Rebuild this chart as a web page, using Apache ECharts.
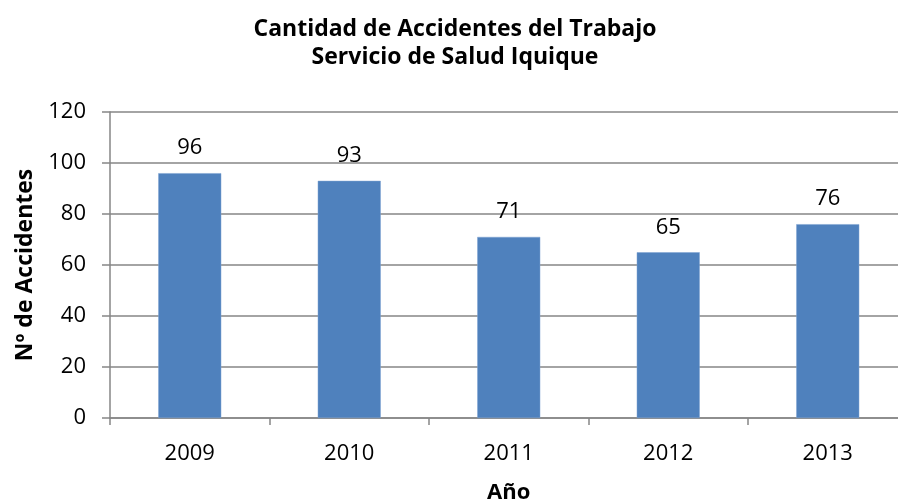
<!DOCTYPE html>
<html>
<head>
<meta charset="utf-8">
<script src="https://cdn.jsdelivr.net/npm/echarts@6/dist/echarts.min.js"></script>
<style>html,body{margin:0;padding:0;background:#fff}#c{width:898px;height:503px}</style>
</head>
<body>
<div id="c"></div>
<script>
var titleText = 'Cantidad de Accidentes del Trabajo\nServicio de Salud Iquique';
var categories = ['2009', '2010', '2011', '2012', '2013'];
var accidentes = [96, 93, 71, 65, 76];
var yTicks = { min: 0, max: 120, interval: 20 };
var xName = 'Año';
var yName = 'Nº de Accidentes';

var FONT = 'Open Sans';
var chart = echarts.init(document.getElementById('c'), null, { renderer: 'canvas' });
chart.setOption({
  animation: false,
  backgroundColor: '#ffffff',
  title: {
    text: titleText,
    left: 450,
    top: 10,
    textAlign: 'center',
    textStyle: { fontFamily: FONT, fontSize: 23, fontWeight: 'bold', color: '#000', lineHeight: 28 }
  },
  grid: { left: 110, width: 797.5, top: 112, height: 306, containLabel: false, outerBoundsMode: 'none' },
  xAxis: {
    type: 'category',
    data: categories,
    name: xName,
    nameLocation: 'middle',
    nameGap: 64,
    nameTextStyle: { fontFamily: FONT, fontSize: 22, fontWeight: 'bold', color: '#000' },
    axisLine: { show: true, lineStyle: { color: '#868686', width: 1.5 } },
    axisTick: { show: true, alignWithLabel: false, length: 7, lineStyle: { color: '#868686', width: 1.5 } },
    axisLabel: { fontFamily: FONT, fontSize: 22, color: '#000', margin: 25 },
    splitLine: { show: false }
  },
  yAxis: {
    type: 'value',
    min: yTicks.min,
    max: yTicks.max,
    interval: yTicks.interval,
    name: yName,
    nameLocation: 'middle',
    nameGap: 72,
    nameTextStyle: { fontFamily: FONT, fontSize: 23, fontWeight: 'bold', color: '#000' },
    axisLine: { show: true, lineStyle: { color: '#868686', width: 1.5 } },
    axisTick: { show: true, inside: false, length: 8, lineStyle: { color: '#868686', width: 1.5 } },
    axisLabel: { fontFamily: FONT, fontSize: 22, color: '#000', margin: 24 },
    splitLine: { show: true, lineStyle: { color: '#868686', width: 1.5 } }
  },
  series: [{
    type: 'bar',
    data: accidentes,
    barWidth: 63,
    itemStyle: { color: '#4F81BD', borderColor: '#7fa3d3', borderWidth: 0.5 },
    label: {
      show: true,
      position: 'top',
      distance: 14,
      fontFamily: FONT,
      fontSize: 22,
      color: '#000'
    }
  }]
});
</script>
</body>
</html>
